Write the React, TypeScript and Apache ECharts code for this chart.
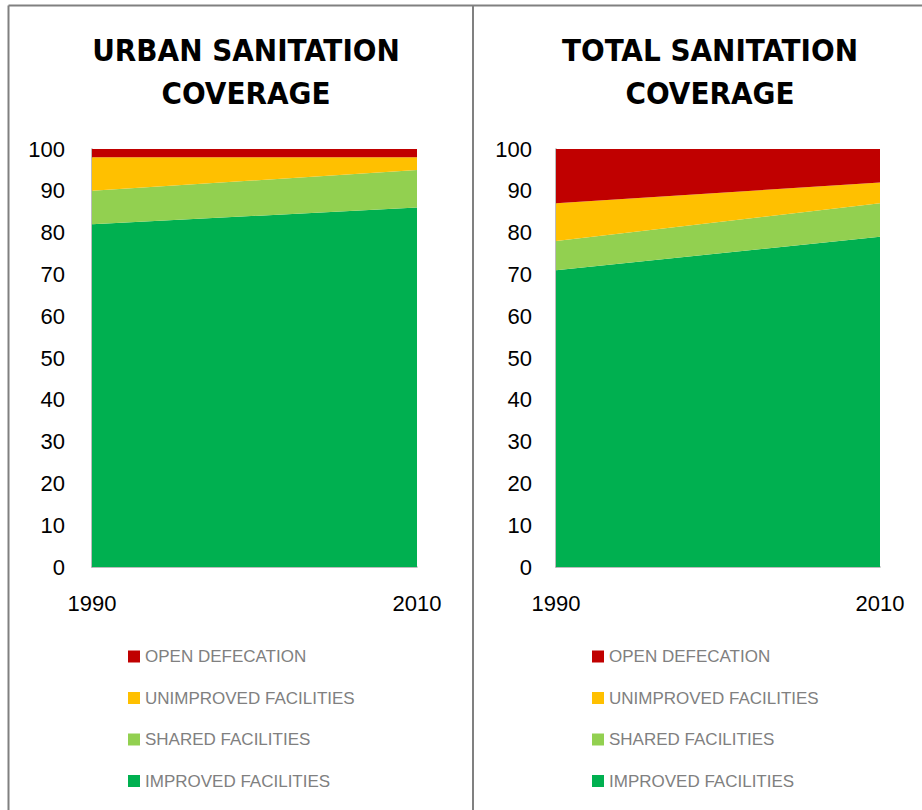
import React, { useEffect, useRef } from "react";
import * as echarts from "echarts";

const years = ["1990", "2010"];
const seriesNames = ["IMPROVED FACILITIES", "SHARED FACILITIES", "UNIMPROVED FACILITIES", "OPEN DEFECATION"];
const legendOrder = ["OPEN DEFECATION", "UNIMPROVED FACILITIES", "SHARED FACILITIES", "IMPROVED FACILITIES"];
const colors = ["#00B050", "#92D050", "#FFC000", "#C00000"];

const urbanImproved = [82, 86];
const urbanShared = [8, 9];
const urbanUnimproved = [8, 3];
const urbanOpen = [2, 2];

const totalImproved = [71, 79];
const totalShared = [7, 8];
const totalUnimproved = [9, 5];
const totalOpen = [13, 8];

const titles = ["URBAN SANITATION\nCOVERAGE", "TOTAL SANITATION\nCOVERAGE"];

const urbanData = [urbanImproved, urbanShared, urbanUnimproved, urbanOpen];
const totalData = [totalImproved, totalShared, totalUnimproved, totalOpen];

export default function App() {
  const ref = useRef<HTMLDivElement>(null);
  useEffect(() => {
    if (!ref.current) return;
    const chart = echarts.init(ref.current, null, { renderer: "svg" });
    const axisColor = "#A6A6A6";
    const font = "'Liberation Sans', Arial, sans-serif";
    const grids = [
      { left: 92, top: 149, width: 325, height: 418 },
      { left: 556, top: 149, width: 324, height: 418 },
    ];
    const xAxes = grids.map((_, i) => ({
      type: "category" as const,
      gridIndex: i,
      data: years,
      boundaryGap: false,
      axisLine: { show: true, lineStyle: { color: axisColor, width: 1.5 } },
      axisTick: { show: false },
      axisLabel: { color: "#000", fontSize: 22, fontFamily: font, margin: 25 },
      splitLine: { show: false },
    }));
    const yAxes = grids.map((_, i) => ({
      type: "value" as const,
      gridIndex: i,
      min: 0,
      max: 100,
      interval: 10,
      axisLine: { show: true, lineStyle: { color: axisColor, width: 1.5 } },
      axisTick: { show: false },
      axisLabel: { color: "#000", fontSize: 22, fontFamily: font, margin: i === 0 ? 27 : 24 },
      splitLine: { show: false },
    }));
    const series: any[] = [];
    [urbanData, totalData].forEach((set, gi) => {
      set.forEach((vals, si) => {
        series.push({
          type: "line",
          name: seriesNames[si],
          xAxisIndex: gi,
          yAxisIndex: gi,
          stack: "s" + gi,
          data: vals,
          symbol: "none",
          lineStyle: { width: 0 },
          areaStyle: { color: colors[si], opacity: 1 },
          itemStyle: { color: colors[si] },
        });
      });
    });
    const legendBase = {
      orient: "vertical" as const,
      top: 648,
      padding: 0,
      itemWidth: 12,
      itemHeight: 12,
      itemGap: 24.5,
      icon: "rect",
      data: legendOrder,
      textStyle: { color: "#808080", fontSize: 17, fontFamily: font, padding: [2, 0, 0, 0] },
      selectedMode: false,
    };
    const titleFont = "'Liberation Sans Narrow', 'DejaVu Sans Condensed', Arial, sans-serif";
    const titleStyle = { fontSize: 31, fontWeight: "bold" as const, color: "#000", fontFamily: titleFont, lineHeight: 43 };
    chart.setOption({
      animation: false,
      backgroundColor: "#fff",
      title: [
        { text: titles[0], left: 241, top: 23, textAlign: "center", textStyle: titleStyle },
        { text: titles[1], left: 705, top: 23, textAlign: "center", textStyle: titleStyle },
      ],
      legend: [
        { ...legendBase, left: 128 },
        { ...legendBase, left: 592 },
      ],
      grid: grids,
      xAxis: xAxes,
      yAxis: yAxes,
      series,
      graphic: [
        { type: "line", shape: { x1: 8.5, y1: 5.5, x2: 922, y2: 5.5 }, style: { stroke: "#808080", lineWidth: 2 } },
        { type: "line", shape: { x1: 8.5, y1: 5.5, x2: 8.5, y2: 810 }, style: { stroke: "#808080", lineWidth: 2 } },
        { type: "line", shape: { x1: 473, y1: 5.5, x2: 473, y2: 810 }, style: { stroke: "#808080", lineWidth: 2 } },
      ],
    });
    return () => chart.dispose();
  }, []);
  return <div ref={ref} style={{ position: "fixed", left: 0, top: 0, width: 922, height: 810 }} />;
}
